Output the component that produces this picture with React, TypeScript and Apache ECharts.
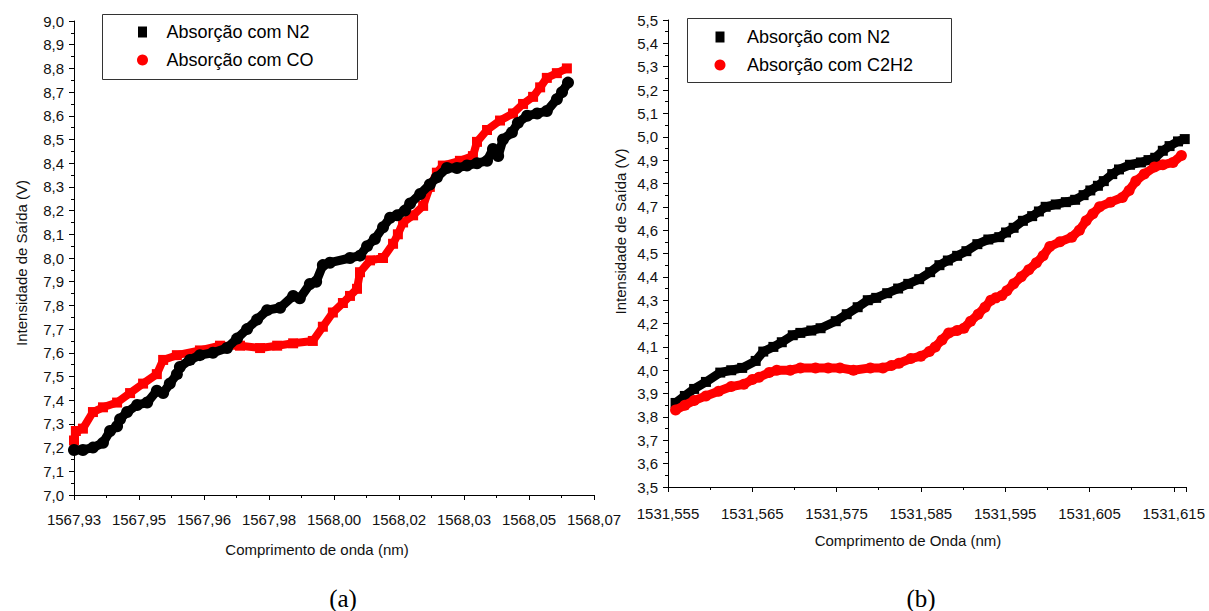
import React, { useEffect, useRef } from 'react';
import * as echarts from 'echarts';

const FONT = '"Liberation Sans", Arial, sans-serif';

// ---- panel (a) ----
const aBase = 1567.93;
const aTickLabels = ['1567,93', '1567,95', '1567,96', '1567,98', '1568,00', '1568,02', '1568,03', '1568,05', '1568,07'];
const aN2Wl = [
  1567.9300, 1567.9324, 1567.9351, 1567.9378, 1567.9397, 1567.9416, 1567.9424, 1567.9443, 1567.9470, 1567.9497,
  1567.9523, 1567.9540, 1567.9558, 1567.9577, 1567.9585, 1567.9612, 1567.9639, 1567.9674, 1567.9712, 1567.9739,
  1567.9766, 1567.9793, 1567.9820, 1567.9855, 1567.9890, 1567.9908, 1567.9935, 1567.9952, 1567.9970, 1567.9989,
  1568.0043, 1568.0070, 1568.0089, 1568.0110, 1568.0132, 1568.0151, 1568.0170, 1568.0191, 1568.0205, 1568.0232,
  1568.0258, 1568.0277, 1568.0304, 1568.0331, 1568.0358, 1568.0385, 1568.0412, 1568.0428, 1568.0442, 1568.0455,
  1568.0479, 1568.0495, 1568.0520, 1568.0547, 1568.0573, 1568.0600, 1568.0614, 1568.0630,
];
const aN2V = [
  7.19, 7.19, 7.20, 7.22, 7.27, 7.29, 7.32, 7.35, 7.38, 7.39,
  7.44, 7.43, 7.47, 7.51, 7.54, 7.57, 7.59, 7.60, 7.62, 7.66,
  7.70, 7.74, 7.78, 7.79, 7.84, 7.83, 7.89, 7.90, 7.97, 7.98,
  8.00, 8.01, 8.05, 8.08, 8.13, 8.17, 8.18, 8.20, 8.23, 8.27,
  8.31, 8.34, 8.38, 8.38, 8.39, 8.40, 8.41, 8.46, 8.43, 8.50,
  8.53, 8.57, 8.60, 8.61, 8.62, 8.67, 8.70, 8.74,
];
const aCOWl = [
  1567.9300, 1567.9305, 1567.9324, 1567.9351, 1567.9378, 1567.9416, 1567.9451, 1567.9486, 1567.9523, 1567.9540,
  1567.9577, 1567.9639, 1567.9693, 1567.9747, 1567.9801, 1567.9847, 1567.9890, 1567.9943, 1567.9970, 1567.9997,
  1568.0024, 1568.0043, 1568.0062, 1568.0070, 1568.0097, 1568.0132, 1568.0159, 1568.0172, 1568.0186, 1568.0213,
  1568.0240, 1568.0258, 1568.0277, 1568.0293, 1568.0339, 1568.0374, 1568.0385, 1568.0412, 1568.0447, 1568.0482,
  1568.0509, 1568.0536, 1568.0555, 1568.0573, 1568.0600, 1568.0627,
];
const aCOV = [
  7.23, 7.27, 7.28, 7.35, 7.37, 7.39, 7.43, 7.47, 7.51, 7.57,
  7.59, 7.61, 7.63, 7.63, 7.62, 7.63, 7.64, 7.65, 7.71, 7.77,
  7.81, 7.84, 7.87, 7.94, 7.99, 8.00, 8.06, 8.10, 8.15, 8.18,
  8.22, 8.30, 8.36, 8.39, 8.41, 8.43, 8.49, 8.54, 8.58, 8.61,
  8.65, 8.68, 8.72, 8.76, 8.78, 8.80,
];

// ---- panel (b) ----
const bBase = 1531.555;
const bTickLabels = ['1531,555', '1531,565', '1531,575', '1531,585', '1531,595', '1531,605', '1531,615'];
const bN2Wl = [
  1531.5559, 1531.5570, 1531.5581, 1531.5595, 1531.5612, 1531.5625, 1531.5638, 1531.5654, 1531.5663, 1531.5675,
  1531.5685, 1531.5698, 1531.5707, 1531.5720, 1531.5731, 1531.5749, 1531.5762, 1531.5775, 1531.5787, 1531.5797,
  1531.5810, 1531.5823, 1531.5835, 1531.5848, 1531.5861, 1531.5872, 1531.5882, 1531.5893, 1531.5904, 1531.5917,
  1531.5930, 1531.5943, 1531.5951, 1531.5960, 1531.5971, 1531.5982, 1531.5990, 1531.5998, 1531.6010, 1531.6022,
  1531.6033, 1531.6043, 1531.6051, 1531.6060, 1531.6067, 1531.6077, 1531.6085, 1531.6098, 1531.6111, 1531.6120,
  1531.6128, 1531.6137, 1531.6145, 1531.6155, 1531.6163,
];
const bN2V = [
  3.86, 3.89, 3.92, 3.95, 3.99, 4.00, 4.01, 4.04, 4.08, 4.10,
  4.12, 4.15, 4.16, 4.17, 4.18, 4.21, 4.24, 4.27, 4.30, 4.31,
  4.33, 4.35, 4.37, 4.39, 4.42, 4.45, 4.47, 4.49, 4.51, 4.54,
  4.56, 4.57, 4.59, 4.61, 4.64, 4.66, 4.68, 4.70, 4.71, 4.72,
  4.73, 4.75, 4.77, 4.79, 4.81, 4.84, 4.86, 4.88, 4.89, 4.90,
  4.91, 4.94, 4.96, 4.98, 4.99,
];
const bC2H2Wl = [
  1531.5559, 1531.5570, 1531.5581, 1531.5595, 1531.5610, 1531.5625, 1531.5640, 1531.5650, 1531.5658, 1531.5670,
  1531.5679, 1531.5695, 1531.5707, 1531.5725, 1531.5740, 1531.5754, 1531.5770, 1531.5790, 1531.5805, 1531.5815,
  1531.5824, 1531.5838, 1531.5850, 1531.5860, 1531.5867, 1531.5875, 1531.5883, 1531.5893, 1531.5901, 1531.5909,
  1531.5918, 1531.5926, 1531.5933, 1531.5939, 1531.5946, 1531.5952, 1531.5960, 1531.5969, 1531.5978, 1531.5987,
  1531.5995, 1531.6003, 1531.6015, 1531.6029, 1531.6038, 1531.6046, 1531.6054, 1531.6062, 1531.6075, 1531.6089,
  1531.6097, 1531.6105, 1531.6115, 1531.6127, 1531.6137, 1531.6149, 1531.6159,
];
const bC2H2V = [
  3.83, 3.85, 3.87, 3.89, 3.91, 3.93, 3.94, 3.96, 3.97, 3.99,
  4.00, 4.00, 4.01, 4.01, 4.01, 4.01, 4.00, 4.01, 4.01, 4.02,
  4.03, 4.05, 4.06, 4.08, 4.10, 4.13, 4.16, 4.17, 4.18, 4.21,
  4.24, 4.27, 4.30, 4.31, 4.32, 4.34, 4.37, 4.40, 4.43, 4.46,
  4.49, 4.53, 4.55, 4.57, 4.60, 4.64, 4.67, 4.70, 4.72, 4.74,
  4.77, 4.81, 4.84, 4.87, 4.88, 4.89, 4.92,
];

const N2 = 'Absorção com N2';
const CO = 'Absorção com CO';
const C2H2 = 'Absorção com C2H2';

const toPts = (wl: number[], v: number[], base: number) =>
  wl.map((w, i) => [(w - base) * 1000, v[i]]);

const SQUARE = 'path://M0 0H9V11H0Z';

function yAxisCfg(grid: number, min: number, max: number, pad: number[], gap: number) {
  return {
    type: 'value', gridIndex: grid, min, max, interval: 0.1,
    axisLine: { show: true, lineStyle: { color: '#000', width: 1 } },
    axisTick: { show: true, length: 5, lineStyle: { color: '#000' } },
    minorTick: { show: true, splitNumber: 2, length: 3, lineStyle: { color: '#000' } },
    splitLine: { show: false },
    minorSplitLine: { show: false },
    axisLabel: {
      margin: 10, fontSize: 15, color: '#111', fontFamily: FONT,
      formatter: (v: number) => v.toFixed(1).replace('.', ','),
    },
    name: 'Intensidade de Saída (V)', nameLocation: 'middle', nameGap: gap,
    nameTextStyle: { fontSize: 15, color: '#111', fontFamily: FONT, padding: pad },
  };
}

function xAxisCfg(grid: number, max: number, interval: number, labels: string[], title: string, gap: number, pad: number[], margin: number) {
  return {
    type: 'value', gridIndex: grid, min: 0, max, interval,
    axisLine: { show: true, onZero: false, lineStyle: { color: '#000', width: 1 } },
    axisTick: { show: true, length: 5, lineStyle: { color: '#000' } },
    minorTick: { show: true, splitNumber: 2, length: 3, lineStyle: { color: '#000' } },
    splitLine: { show: false },
    minorSplitLine: { show: false },
    axisLabel: {
      margin, fontSize: 15, color: '#111', fontFamily: FONT,
      formatter: (v: number) => labels[Math.round(v / interval)] ?? '',
    },
    name: title, nameLocation: 'middle', nameGap: gap,
    nameTextStyle: { fontSize: 15, color: '#111', fontFamily: FONT, padding: pad, verticalAlign: 'top' },
  };
}

function lineSeries(name: string, data: number[][], idx: number, color: string, symbol: string, size: number, width: number, z: number) {
  return {
    name, type: 'line', xAxisIndex: idx, yAxisIndex: idx, data,
    symbol, symbolSize: size, showSymbol: true,
    itemStyle: { color },
    lineStyle: { color, width },
    emphasis: { disabled: true },
    z,
  };
}

export default function App() {
  const ref = useRef<HTMLDivElement>(null);
  useEffect(() => {
    if (!ref.current) return;
    const chart = echarts.init(ref.current, null, { renderer: 'svg' });
    const option = {
      animation: false,
      backgroundColor: '#fff',
      textStyle: { fontFamily: FONT },
      grid: [
        { left: 74, top: 21, width: 520, height: 474 },
        { left: 668, top: 20, width: 518, height: 467 },
      ],
      xAxis: [
        xAxisCfg(0, 140, 17.5, aTickLabels, 'Comprimento de onda (nm)', 47, [0, 34, 0, 0], 17),
        xAxisCfg(1, 61.45, 10, bTickLabels, 'Comprimento de Onda (nm)', 46, [0, 38, 0, 0], 19),
      ],
      yAxis: [
        yAxisCfg(0, 7, 9, [0, 10, 0, 0], 45),
        yAxisCfg(1, 3.5, 5.5, [0, 0, 0, 44], 40),
      ],
      legend: [
        {
          left: 137, top: 23, orient: 'vertical', padding: 0,
          itemWidth: 38, itemHeight: 11, itemGap: 10, selectedMode: false,
          textStyle: { fontSize: 18, color: '#000', fontFamily: FONT },
          data: [{ name: N2, icon: SQUARE }, { name: CO, icon: 'circle' }],
        },
        {
          left: 714.5, top: 28, orient: 'vertical', padding: 0,
          itemWidth: 44, itemHeight: 11, itemGap: 10, selectedMode: false,
          textStyle: { fontSize: 18, color: '#000', fontFamily: FONT },
          data: [{ name: N2, icon: SQUARE }, { name: C2H2, icon: 'circle' }],
        },
      ],
      graphic: [
        { type: 'rect', silent: true, shape: { x: 102.5, y: 14.5, width: 255, height: 65 }, style: { fill: 'none', stroke: '#333', lineWidth: 1 } },
        { type: 'rect', silent: true, shape: { x: 687.5, y: 18.5, width: 264, height: 64 }, style: { fill: 'none', stroke: '#333', lineWidth: 1 } },
        { type: 'text', x: 343, y: 598, style: { text: '(a)', fontSize: 25, fontFamily: '"Liberation Serif", "Times New Roman", serif', fill: '#000', align: 'center', verticalAlign: 'middle' } },
        { type: 'text', x: 921, y: 598, style: { text: '(b)', fontSize: 25, fontFamily: '"Liberation Serif", "Times New Roman", serif', fill: '#000', align: 'center', verticalAlign: 'middle' } },
      ],
      series: [
        lineSeries(CO, toPts(aCOWl, aCOV, aBase), 0, '#ff0000', 'rect', 10, 8, 2),
        lineSeries(N2, toPts(aN2Wl, aN2V, aBase), 0, '#000000', 'circle', 12, 9, 3),
        lineSeries(N2, toPts(bN2Wl, bN2V, bBase), 1, '#000000', 'rect', 10, 9, 2),
        lineSeries(C2H2, toPts(bC2H2Wl, bC2H2V, bBase), 1, '#ff0000', 'circle', 11, 9, 3),
      ],
    };
    chart.setOption(option as any);
    return () => chart.dispose();
  }, []);
  return (
    <div
      ref={ref}
      style={{ position: 'absolute', left: 0, top: 0, width: 1209, height: 611, background: '#fff' }}
    />
  );
}
